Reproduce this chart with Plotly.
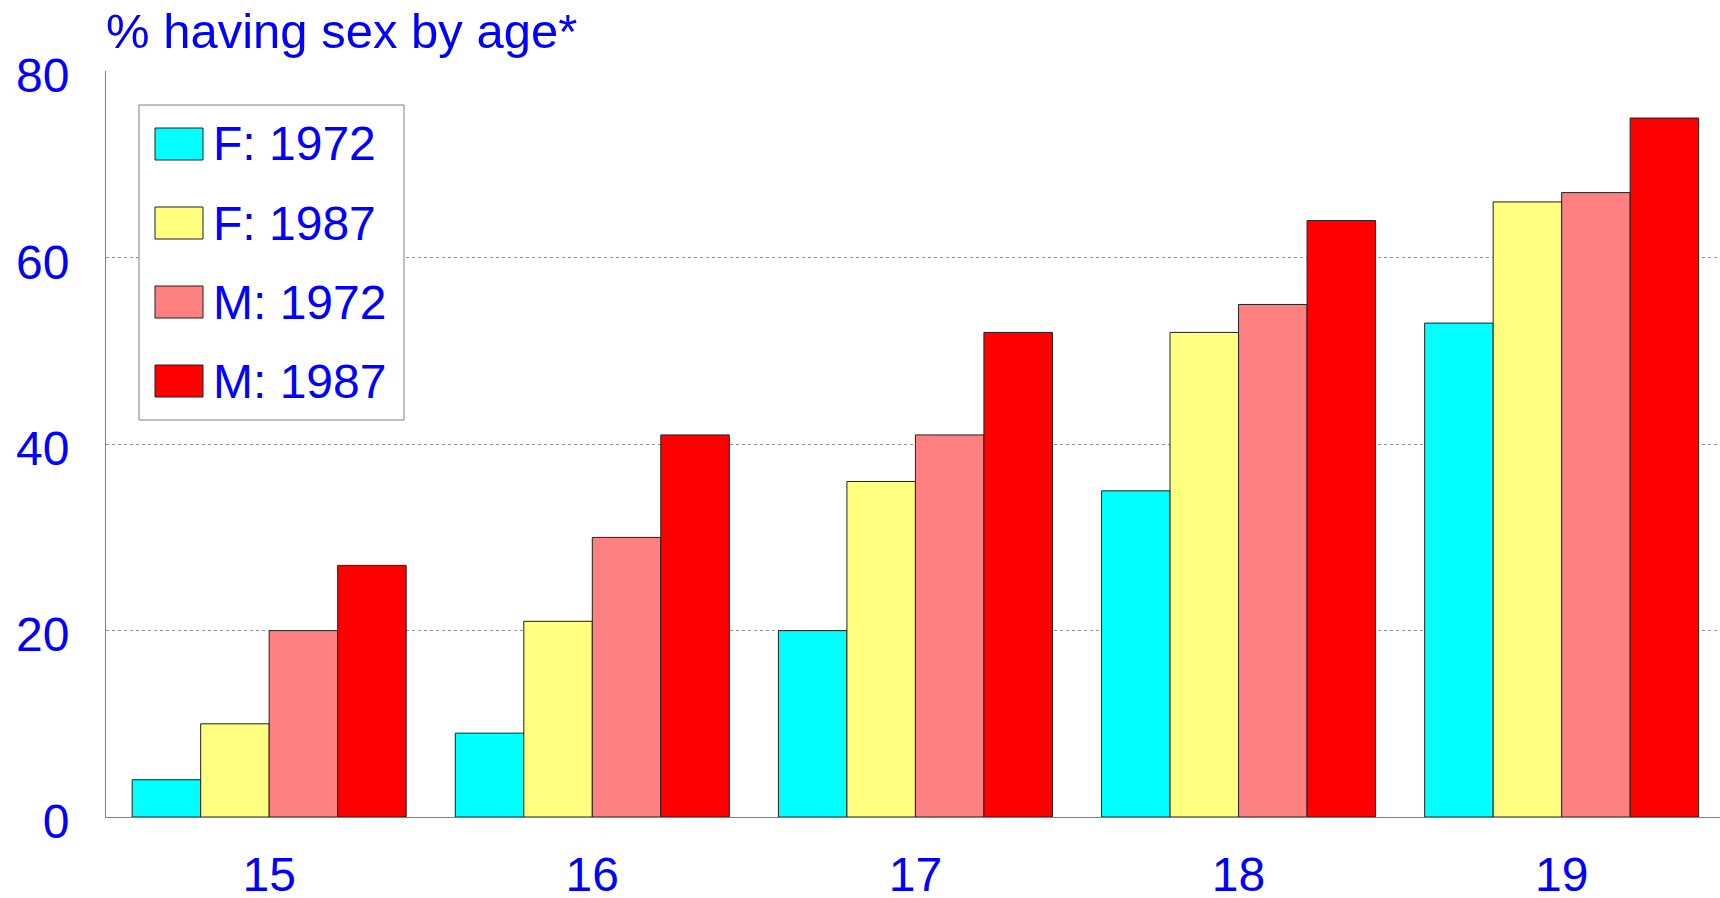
import plotly.graph_objects as go

ages = ["15", "16", "17", "18", "19"]
series_names = ["F: 1972", "F: 1987", "M: 1972", "M: 1987"]
f_1972 = [4, 9, 20, 35, 53]
f_1987 = [10, 21, 36, 52, 66]
m_1972 = [20, 30, 41, 55, 67]
m_1987 = [27, 41, 52, 64, 75]
series_values = [f_1972, f_1987, m_1972, m_1987]
colors = ["#00FFFF", "#FFFF80", "#FF8080", "#FF0000"]
y_ticks = [0, 20, 40, 60, 80]

W, H = 1720, 898
ML, MR, MT, MB = 106, 0, 71, 898 - 817
PW, PH = W - ML - MR, H - MT - MB

FONT = "Liberation Sans, Arial, Helvetica, sans-serif"
BLUE = "#0000FF"

def px(x):
    return (x - ML) / PW

def py(y):
    return 1 - (y - MT) / PH

fig = go.Figure()
for name, vals, col in zip(series_names, series_values, colors):
    fig.add_trace(go.Bar(
        x=ages, y=vals, name=name,
        marker=dict(color=col, line=dict(color="#202020", width=1)),
        showlegend=False,
    ))

# manual legend (larger swatches than plotly's built-in)
shapes = [dict(type="rect", xref="paper", yref="paper",
               x0=px(139), x1=px(404), y0=py(105), y1=py(420),
               line=dict(color="#808080", width=1), fillcolor="white", layer="above")]
annotations = []
row_centers = [144, 223, 302, 381]
for name, col, yc in zip(series_names, colors, row_centers):
    shapes.append(dict(type="rect", xref="paper", yref="paper",
                       x0=px(155), x1=px(203), y0=py(yc - 16), y1=py(yc + 16),
                       line=dict(color="#202020", width=1), fillcolor=col, layer="above"))
    annotations.append(dict(text=name, xref="paper", yref="paper",
                            x=px(211), y=py(yc), xanchor="left", yanchor="middle",
                            showarrow=False, font=dict(family=FONT, size=48, color=BLUE)))

fig.update_layout(
    width=W, height=H,
    margin=dict(l=ML, r=MR, t=MT, b=MB, autoexpand=False),
    paper_bgcolor="white", plot_bgcolor="white",
    barmode="group", bargap=0.152, bargroupgap=0,
    title=dict(text="% having sex by age*", x=106 / W, xanchor="left", xref="container",
               y=1 - 31 / H, yanchor="middle", yref="container",
               font=dict(family=FONT, size=49, color=BLUE)),
    shapes=shapes, annotations=annotations,
    xaxis=dict(showline=True, linecolor="#808080", linewidth=1, showgrid=False,
               tickfont=dict(family=FONT, size=48, color=BLUE), ticks="",
               ticklabelstandoff=15, range=[-0.505, 4.49], automargin=False),
    yaxis=dict(range=[0, 80.05], tickvals=y_ticks, showline=True, linecolor="#808080", linewidth=1,
               showgrid=True, gridcolor="#909090", griddash="dot", gridwidth=1,
               zeroline=False, ticks="", automargin=False, ticklabelshift=4,
               tickfont=dict(family=FONT, size=48, color=BLUE), ticklabelstandoff=26),
)

fig.write_html("out.html", config={"displayModeBar": False},
               post_script="document.body.style.margin='0';document.body.style.overflow='hidden';")
